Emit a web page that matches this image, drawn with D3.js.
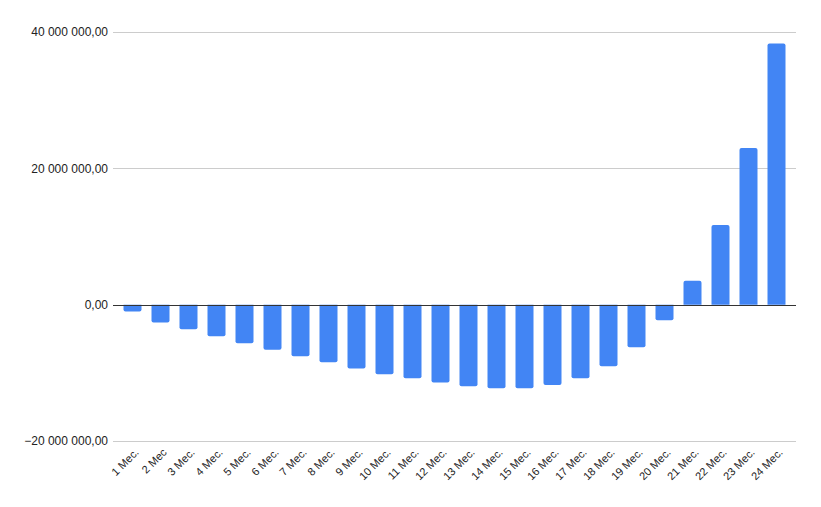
<!DOCTYPE html>
<html>
<head>
<meta charset="utf-8">
<script src="https://cdn.jsdelivr.net/npm/d3@7"></script>
<style>
  body { margin: 0; background: #fff; }
  text { font-family: Arial, "Liberation Sans", sans-serif; }
</style>
</head>
<body>
<div id="chart"></div>
<script>
// data
var months = ["1 Мес.", "2 Мес", "3 Мес.", "4 Мес.", "5 Мес.", "6 Мес.", "7 Мес.", "8 Мес.",
  "9 Мес.", "10 Мес.", "11 Мес.", "12 Мес.", "13 Мес.", "14 Мес.", "15 Мес.", "16 Мес.",
  "17 Мес.", "18 Мес.", "19 Мес.", "20 Мес.", "21 Мес.", "22 Мес.", "23 Мес.", "24 Мес."];
var values = [-1000000, -2600000, -3600000, -4650000, -5650000, -6600000, -7550000, -8450000,
  -9350000, -10200000, -10800000, -11400000, -11950000, -12250000, -12250000, -11800000,
  -10800000, -9050000, -6250000, -2300000, 3500000, 11700000, 23000000, 38300000];
var yTicks = [-20000000, 0, 20000000, 40000000];

var width = 821, height = 507;
var margin = {top: 32, right: 25, bottom: 66, left: 113};

var svg = d3.select("#chart")
  .append("svg")
    .attr("width", width)
    .attr("height", height);

var x = d3.scaleBand()
  .domain(months)
  .range([margin.left, width - margin.right])
  .paddingInner(0.357)
  .paddingOuter(0.375);

var y = d3.scaleLinear()
  .domain([-20000000, 40000000])
  .range([height - margin.bottom, margin.top]);

var loc = d3.formatLocale({decimal: ",", thousands: " ", grouping: [3], currency: ["", ""]});
var fmt = loc.format(",.2f");

// gridlines
svg.append("g")
  .selectAll("line")
  .data(yTicks.filter(function(d) { return d !== 0; }))
  .enter()
  .append("line")
    .attr("x1", margin.left)
    .attr("x2", width - margin.right)
    .attr("y1", function(d) { return Math.round(y(d)) + 0.5; })
    .attr("y2", function(d) { return Math.round(y(d)) + 0.5; })
    .attr("stroke", "#cccccc")
    .attr("stroke-width", 1);

// y labels
svg.append("g")
  .selectAll("text")
  .data(yTicks)
  .enter()
  .append("text")
    .attr("x", margin.left - 5)
    .attr("y", function(d) { return y(d); })
    .attr("dy", "0.35em")
    .attr("text-anchor", "end")
    .attr("font-size", 12)
    .attr("fill", "#222")
    .text(function(d) { return fmt(d); });

// bars, rounded on the far end
var r = 2;
function barPath(d, i) {
  var x0 = x(months[i]), w = x.bandwidth();
  var y0 = y(0), y1 = y(d);
  var s = d >= 0 ? 1 : -1;
  return "M" + x0 + "," + y0 +
    "L" + x0 + "," + (y1 + s * r) +
    "Q" + x0 + "," + y1 + " " + (x0 + r) + "," + y1 +
    "L" + (x0 + w - r) + "," + y1 +
    "Q" + (x0 + w) + "," + y1 + " " + (x0 + w) + "," + (y1 + s * r) +
    "L" + (x0 + w) + "," + y0 + "Z";
}
svg.append("g")
  .selectAll("path")
  .data(values)
  .enter()
  .append("path")
    .attr("d", barPath)
    .attr("fill", "#4285f4");

// zero line
svg.append("line")
  .attr("x1", margin.left)
  .attr("x2", width - margin.right)
  .attr("y1", Math.round(y(0)) + 0.5)
  .attr("y2", Math.round(y(0)) + 0.5)
  .attr("stroke", "#333")
  .attr("stroke-width", 1);

// x labels, rotated
svg.append("g")
  .selectAll("text")
  .data(months)
  .enter()
  .append("text")
    .attr("transform", function(d) {
      return "translate(" + (x(d) + x.bandwidth() / 2 + 7) + "," + (height - margin.bottom + 12) + ") rotate(-45)";
    })
    .attr("text-anchor", "end")
    .attr("font-size", 11)
    .attr("fill", "#222")
    .text(function(d) { return d; });
</script>
</body>
</html>
